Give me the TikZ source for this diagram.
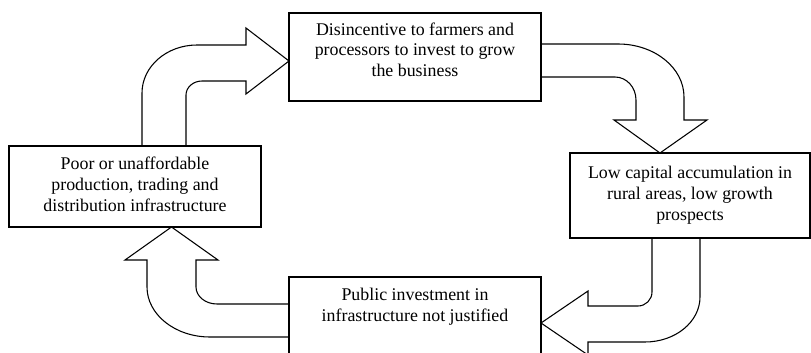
\documentclass[tikz,border=0pt]{standalone}
\usepackage{fontspec}
\setmainfont{Liberation Serif}
\usepackage{tikz}
\newcommand{\textlines}[1]{\begin{tabular}[b]{@{}c@{}}#1\end{tabular}}

\begin{document}
\begin{tikzpicture}[x=0.75pt,y=-0.75pt,
  box/.style={draw,line width=0.8pt,inner sep=0pt,outer sep=0pt,
    minimum width=189pt,font=\fontsize{13.4}{15.5}\selectfont},
  blockarrow/.style={line width=0.8pt,line join=miter}]
  \useasboundingbox (0,0) rectangle (811,353);
  \clip (0,0) rectangle (811,353);

  % Las cuatro etapas del ciclo
  \node[box,minimum height=60.75pt] (infra) at (135,186.5)
    {\textlines{Poor or unaffordable\\production, trading and\\distribution infrastructure}};
  \node[box,minimum height=66pt,text depth=12.6pt] (disinc) at (415,57)
    {\textlines{Disincentive to farmers and\\processors to invest to grow\\the business}};
  \node[box,minimum width=180pt,minimum height=63.75pt] (lowcap) at (690,195.5)
    {\textlines{Low capital accumulation in\\rural areas, low growth\\prospects}};
  \node[box,minimum height=63.75pt,text depth=23.4pt] (pubinv) at (415,319.5)
    {\textlines{Public investment in\\infrastructure not justified}};

  % Flecha de infra a disinc
  \draw[blockarrow] (142,0 |- infra.north) -- (142,93)
    .. controls +(0,-26.5) and +(-30.4,0) .. (197,45) -- (246,45) -- (246,28)
    -- (disinc.west |- 0,61) -- (246,94) -- (246,81) -- (202,81)
    .. controls +(-8.8,0) and +(0,-7.7) .. (186,95) -- (186,0 |- infra.north);

  % Flecha de disinc a lowcap
  \draw[blockarrow] (disinc.east |- 0,44) -- (618,44)
    .. controls +(36.4,0) and +(0,-29.3) .. (684,97) -- (684,120) -- (707,120)
    -- (660,0 |- lowcap.north) -- (614,120) -- (636,120) -- (636,100)
    .. controls +(0,-12.7) and +(11.6,0) .. (615,77) -- (disinc.east |- 0,77);

  % Flecha de lowcap a pubinv
  \draw[blockarrow] (652,0 |- lowcap.south) -- (652,292)
    .. controls +(0,7.7) and +(7.7,0) .. (638,306) -- (588,306) -- (588,291)
    -- (pubinv.east |- 0,323) -- (588,355) -- (588,342) -- (645,342)
    .. controls +(30.4,0) and +(0,24.8) .. (700,297) -- (700,0 |- lowcap.south);

  % Flecha de pubinv a infra
  \draw[blockarrow] (pubinv.west |- 0,304) -- (217,304)
    .. controls +(-11.6,0) and +(0,9.4) .. (196,287) -- (196,260) -- (218,260)
    -- (171.5,0 |- infra.south) -- (125,260) -- (147,260) -- (147,287)
    .. controls +(0,27.6) and +(-34.8,0) .. (210,337) -- (pubinv.west |- 0,337);
\end{tikzpicture}
\end{document}
